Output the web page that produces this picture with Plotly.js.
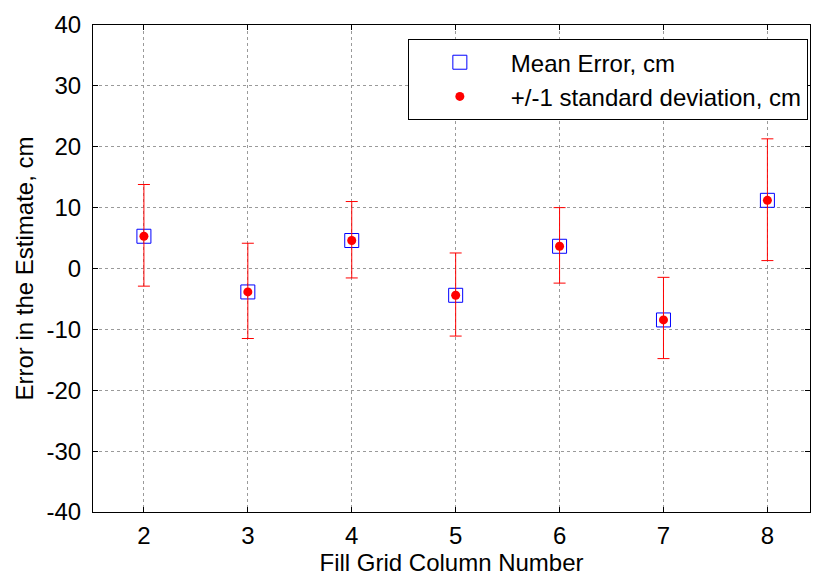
<!DOCTYPE html>
<html>
<head>
<meta charset="utf-8">
<script src="https://cdn.plot.ly/plotly-3.0.1.min.js"></script>
<style>html,body{margin:0;padding:0;background:#fff;overflow:hidden}</style>
</head>
<body>
<div id="chart" style="width:814px;height:581px"></div>
<script>
const columns = [2, 3, 4, 5, 6, 7, 8];
const meanError = [5.3, -3.85, 4.6, -4.4, 3.65, -8.45, 11.2];
const upperBound = [13.8, 4.15, 11.0, 2.55, 10.0, -1.45, 21.3];
const lowerBound = [-2.9, -11.5, -1.55, -11.1, -2.4, -14.8, 1.3];
const yTicks = [-40, -30, -20, -10, 0, 10, 20, 30, 40];
const yTickText = ['-40', '-30', '-20', '-10', '0', '10', '20', '30', '40'];

const plus = upperBound.map((u, i) => u - meanError[i]);
const minus = lowerBound.map((l, i) => meanError[i] - l);

const font = "Liberation Sans, Arial, sans-serif";
const fs = 24;

const traces = [
  {
    x: columns, y: meanError, type: 'scatter', mode: 'markers',
    name: 'Mean Error, cm', legendgroup: 'a',
    marker: {symbol: 'square-open', size: 14, color: '#0000ff', line: {width: 1, color: '#0000ff'}}
  },
  {
    x: columns, y: meanError, type: 'scatter', mode: 'markers',
    name: '+/-1 standard deviation, cm', legendgroup: 'b',
    marker: {symbol: 'circle', size: 9, color: '#ff0000'},
    error_y: {type: 'data', symmetric: false, array: plus, arrayminus: minus,
              color: '#ff0000', thickness: 1, width: 6}
  }
];

const axisCommon = {
  showline: true, linecolor: '#000', linewidth: 1, mirror: 'ticks',
  ticks: 'inside', ticklen: 5, tickcolor: '#000', tickwidth: 1,
  showgrid: true, gridcolor: '#9a9a9a', griddash: 'dot', gridwidth: 1,
  zeroline: false, tickfont: {family: font, size: fs, color: '#000'}
};

const layout = {
  width: 814, height: 581,
  margin: {l: 93, r: 4, t: 25, b: 69},
  paper_bgcolor: '#fff', plot_bgcolor: '#fff',
  font: {family: font, color: '#000'},
  showlegend: true,
  xaxis: Object.assign({}, axisCommon, {
    range: [1.51, 8.41], tickvals: columns, ticklabelstandoff: 2,
    title: {text: 'Fill Grid Column Number', font: {family: font, size: fs}, standoff: 4}
  }),
  yaxis: Object.assign({}, axisCommon, {
    range: [-40, 40], tickvals: yTicks, ticktext: yTickText, ticklabelstandoff: 6,
    title: {text: 'Error in the Estimate, cm', font: {family: font, size: fs}, standoff: 6}
  }),
  legend: {
    x: 0.997, xanchor: 'right', y: 0.971, yanchor: 'top',
    bgcolor: '#fff', bordercolor: '#000', borderwidth: 1,
    font: {family: font, size: fs, color: '#000'},
    itemwidth: 92, tracegroupgap: 0, traceorder: 'grouped'
  }
};

Plotly.newPlot('chart', traces, layout, {displayModeBar: false, staticPlot: true});
</script>
</body>
</html>
